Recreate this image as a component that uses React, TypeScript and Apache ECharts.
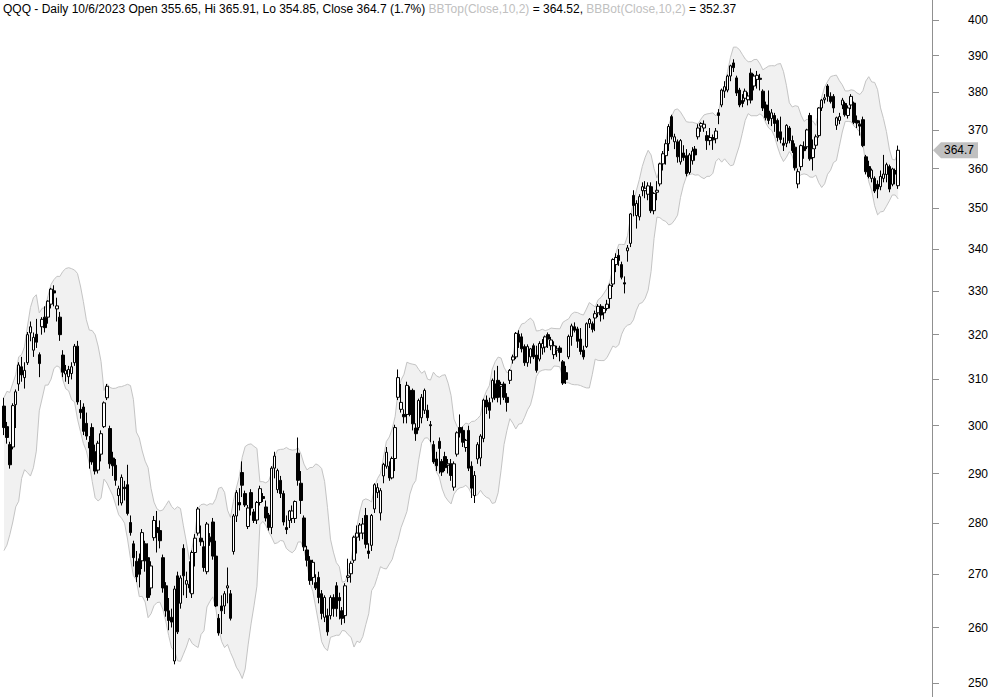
import React, { useEffect, useRef } from "react";
import * as echarts from "echarts";

// Closes of the 9 sessions before the first visible bar (needed for the 10-day Bollinger band)
const priorCloses = [285.3, 282.6, 282.0, 282.8, 287.7, 285.2, 294.2, 299.6, 304.0];

// date, open, high, low, close
const bars: [string, number, number, number, number][] = [
  ["7/22/22", 304.2, 306.0, 298.0, 299.6], ["7/25/22", 299.8, 300.8, 296.2, 297.5], ["7/26/22", 296.0, 296.6, 291.0, 291.8],
  ["7/27/22", 295.5, 304.8, 295.0, 304.3], ["7/28/22", 304.5, 307.8, 299.5, 307.3], ["7/29/22", 309.0, 313.8, 307.5, 313.2],
  ["8/1/22", 312.8, 315.0, 309.5, 311.0], ["8/2/22", 310.4, 313.8, 308.0, 312.0], ["8/3/22", 313.7, 320.6, 313.2, 320.0],
  ["8/4/22", 320.4, 323.0, 318.5, 321.8], ["8/5/22", 316.5, 320.5, 315.0, 319.4], ["8/8/22", 320.1, 323.6, 317.0, 318.3],
  ["8/9/22", 315.5, 316.0, 310.5, 313.5], ["8/10/22", 321.8, 324.0, 320.0, 323.5], ["8/11/22", 324.0, 326.5, 320.5, 321.6],
  ["8/12/22", 324.0, 327.9, 322.5, 327.7], ["8/15/22", 327.0, 330.8, 326.0, 330.5], ["8/16/22", 330.1, 331.4, 326.5, 329.6],
  ["8/17/22", 325.9, 328.5, 323.0, 326.6], ["8/18/22", 324.0, 325.2, 318.6, 320.0], ["8/19/22", 315.4, 316.5, 310.5, 311.6],
  ["8/22/22", 311.2, 313.2, 309.5, 312.0], ["8/23/22", 310.6, 313.0, 309.0, 312.2], ["8/24/22", 311.3, 313.8, 310.0, 312.8],
  ["8/25/22", 313.7, 317.9, 313.0, 317.4], ["8/26/22", 317.4, 318.6, 304.5, 305.1], ["8/29/22", 303.5, 305.5, 301.5, 302.8],
  ["8/30/22", 304.0, 304.8, 298.0, 298.8], ["8/31/22", 300.5, 302.8, 297.0, 297.8], ["9/1/22", 296.5, 297.8, 291.0, 295.3],
  ["9/2/22", 299.6, 300.5, 291.8, 292.4], ["9/6/22", 294.5, 296.0, 289.8, 290.5], ["9/7/22", 290.7, 296.8, 290.0, 296.3],
  ["9/8/22", 294.0, 299.0, 292.5, 298.3], ["9/9/22", 299.8, 305.2, 299.5, 304.9], ["9/12/22", 306.0, 309.0, 305.5, 308.5],
  ["9/13/22", 299.4, 300.0, 291.0, 292.0], ["9/14/22", 293.2, 294.5, 289.5, 291.6], ["9/15/22", 291.7, 293.0, 287.5, 288.6],
  ["9/16/22", 285.5, 287.5, 283.5, 286.9], ["9/19/22", 284.0, 289.8, 283.5, 289.2], ["9/20/22", 287.2, 288.5, 284.5, 286.9],
  ["9/21/22", 287.7, 291.8, 281.5, 281.9], ["9/22/22", 280.1, 281.5, 277.5, 278.1], ["9/23/22", 275.9, 276.5, 271.5, 273.2],
  ["9/26/22", 272.5, 274.5, 268.5, 269.5], ["9/27/22", 273.0, 274.0, 267.5, 270.0], ["9/28/22", 272.6, 278.8, 271.0, 278.1],
  ["9/29/22", 275.9, 276.5, 270.5, 272.6], ["9/30/22", 273.2, 276.0, 265.0, 265.6], ["10/3/22", 267.4, 272.5, 266.0, 271.6],
  ["10/4/22", 277.1, 281.4, 276.5, 280.5], ["10/5/22", 279.1, 282.4, 274.2, 278.1], ["10/6/22", 278.5, 280.5, 275.0, 276.5],
  ["10/7/22", 273.2, 273.8, 266.5, 267.4], ["10/10/22", 267.8, 268.5, 262.0, 263.1], ["10/11/22", 263.1, 265.5, 259.5, 261.3],
  ["10/12/22", 261.9, 263.5, 260.0, 261.0], ["10/13/22", 253.9, 267.8, 253.3, 267.2], ["10/14/22", 269.7, 270.5, 258.8, 259.2],
  ["10/17/22", 264.5, 269.8, 263.5, 269.3], ["10/18/22", 275.0, 275.8, 266.0, 269.7], ["10/19/22", 268.1, 270.5, 265.5, 268.8],
  ["10/20/22", 268.1, 272.5, 266.5, 267.4], ["10/21/22", 266.3, 274.6, 265.5, 274.2], ["10/24/22", 274.2, 277.8, 271.5, 277.0],
  ["10/25/22", 278.0, 283.2, 277.5, 282.8], ["10/26/22", 277.0, 279.5, 275.5, 276.3], ["10/27/22", 275.3, 276.5, 270.5, 271.3],
  ["10/28/22", 270.5, 280.2, 270.0, 279.8], ["10/31/22", 277.2, 278.0, 275.5, 276.3], ["11/1/22", 280.2, 281.0, 272.8, 273.5],
  ["11/2/22", 273.5, 276.5, 263.8, 264.0], ["11/3/22", 261.7, 262.5, 258.5, 259.0], ["11/4/22", 264.0, 266.0, 258.8, 263.1],
  ["11/7/22", 264.0, 266.8, 262.5, 266.3], ["11/8/22", 267.4, 271.3, 264.5, 267.8], ["11/9/22", 266.3, 267.0, 261.3, 261.7],
  ["11/10/22", 274.4, 281.8, 273.8, 281.4], ["11/11/22", 281.4, 286.6, 280.2, 286.1], ["11/14/22", 284.1, 287.0, 282.5, 283.6],
  ["11/15/22", 290.2, 292.5, 285.2, 287.6], ["11/16/22", 285.9, 286.5, 283.2, 283.6], ["11/17/22", 279.3, 283.6, 278.8, 283.0],
  ["11/18/22", 286.1, 286.8, 281.5, 283.0], ["11/21/22", 282.2, 282.8, 280.0, 280.5], ["11/22/22", 280.6, 284.4, 279.8, 284.1],
  ["11/23/22", 284.1, 287.5, 283.5, 286.9], ["11/25/22", 285.3, 286.0, 284.2, 284.9], ["11/28/22", 283.2, 284.5, 280.3, 281.0],
  ["11/29/22", 281.6, 282.0, 278.5, 279.1], ["11/30/22", 279.1, 291.5, 277.8, 291.1], ["12/1/22", 291.1, 294.5, 289.0, 293.6],
  ["12/2/22", 286.7, 291.0, 286.0, 290.6], ["12/5/22", 288.6, 289.5, 285.0, 285.9], ["12/6/22", 285.9, 286.5, 279.5, 280.2],
  ["12/7/22", 279.1, 281.5, 277.8, 278.7], ["12/8/22", 280.5, 282.6, 279.0, 282.4], ["12/9/22", 280.9, 283.5, 280.0, 282.4],
  ["12/12/22", 280.9, 284.5, 280.0, 284.3], ["12/13/22", 294.2, 297.5, 287.5, 288.6], ["12/14/22", 288.0, 290.5, 281.8, 284.5],
  ["12/15/22", 281.0, 281.5, 274.5, 275.3], ["12/16/22", 274.7, 275.5, 271.5, 272.7], ["12/19/22", 272.7, 273.5, 268.0, 268.8],
  ["12/20/22", 269.4, 272.8, 268.0, 272.3], ["12/21/22", 268.4, 270.0, 267.0, 267.4], ["12/22/22", 269.4, 270.5, 264.5, 265.6],
  ["12/23/22", 266.3, 267.0, 261.5, 262.6], ["12/27/22", 261.9, 266.0, 261.0, 265.6], ["12/28/22", 262.2, 263.5, 258.5, 259.2],
  ["12/29/22", 262.2, 266.0, 261.5, 265.6], ["12/30/22", 265.6, 266.2, 262.0, 263.5], ["1/3/23", 267.8, 268.5, 262.0, 263.5],
  ["1/4/23", 265.6, 266.5, 261.5, 265.0], ["1/5/23", 263.1, 263.8, 260.5, 261.7], ["1/6/23", 262.2, 268.3, 260.8, 267.8],
  ["1/9/23", 269.4, 273.0, 268.5, 269.7], ["1/10/23", 270.1, 272.5, 268.4, 272.1], ["1/11/23", 272.7, 277.5, 272.2, 277.2],
  ["1/12/23", 277.2, 279.5, 274.0, 278.0], ["1/13/23", 278.0, 280.0, 276.5, 279.6], ["1/17/23", 278.0, 281.0, 276.8, 279.8],
  ["1/18/23", 281.5, 283.0, 275.0, 275.8], ["1/19/23", 274.5, 276.0, 273.0, 274.0], ["1/20/23", 275.6, 281.8, 274.5, 281.5],
  ["1/23/23", 282.8, 288.0, 282.0, 287.7], ["1/24/23", 286.1, 288.0, 285.0, 287.1], ["1/25/23", 282.0, 287.0, 280.5, 286.5],
  ["1/26/23", 289.5, 292.2, 288.0, 291.9], ["1/27/23", 291.5, 295.5, 291.0, 294.4], ["1/30/23", 291.5, 292.5, 288.5, 289.1],
  ["1/31/23", 289.1, 293.5, 288.8, 293.1], ["2/1/23", 293.1, 300.2, 290.5, 299.6], ["2/2/23", 306.1, 312.2, 305.5, 310.4],
  ["2/3/23", 303.5, 309.0, 302.8, 305.0], ["2/6/23", 302.4, 303.5, 300.5, 301.9], ["2/7/23", 302.4, 309.5, 300.5, 308.7],
  ["2/8/23", 307.6, 308.5, 302.0, 302.4], ["2/9/23", 307.6, 308.0, 299.0, 300.4], ["2/10/23", 299.5, 300.5, 296.8, 298.3],
  ["2/13/23", 299.6, 305.8, 299.0, 305.4], ["2/14/23", 301.7, 306.8, 300.5, 306.1], ["2/15/23", 303.3, 308.0, 302.5, 307.6],
  ["2/16/23", 303.3, 304.5, 301.0, 301.7], ["2/17/23", 300.2, 301.0, 296.5, 300.0], ["2/21/23", 296.0, 296.8, 292.0, 292.4],
  ["2/22/23", 293.0, 294.5, 290.5, 291.6], ["2/23/23", 296.7, 297.5, 290.0, 295.2], ["2/24/23", 292.5, 293.0, 289.5, 290.3],
  ["2/27/23", 293.5, 294.5, 290.5, 291.2], ["2/28/23", 291.7, 293.0, 290.0, 292.0], ["3/1/23", 292.0, 293.0, 288.5, 289.6],
  ["3/2/23", 287.2, 292.5, 286.5, 292.0], ["3/3/23", 294.0, 298.8, 293.5, 298.5], ["3/6/23", 299.6, 302.4, 297.5, 298.5],
  ["3/7/23", 299.0, 299.8, 295.5, 296.5], ["3/8/23", 295.4, 297.2, 294.5, 296.9], ["3/9/23", 299.0, 300.0, 290.5, 291.1],
  ["3/10/23", 291.5, 292.5, 285.0, 287.0], ["3/13/23", 285.5, 290.5, 284.0, 289.6], ["3/14/23", 293.0, 296.5, 292.0, 296.0],
  ["3/15/23", 293.2, 298.2, 291.5, 297.8], ["3/16/23", 297.3, 305.8, 296.5, 305.5], ["3/17/23", 305.5, 306.5, 302.5, 304.0],
  ["3/20/23", 305.0, 306.0, 301.5, 303.3], ["3/21/23", 305.9, 310.2, 305.0, 309.8], ["3/22/23", 309.0, 312.0, 305.5, 306.0],
  ["3/23/23", 309.8, 313.0, 305.0, 306.1], ["3/24/23", 308.5, 309.5, 304.5, 308.9], ["3/27/23", 309.0, 309.5, 305.5, 306.1],
  ["3/28/23", 306.1, 307.0, 303.0, 305.0], ["3/29/23", 309.8, 312.3, 309.0, 312.0], ["3/30/23", 314.3, 315.5, 313.5, 315.0],
  ["3/31/23", 315.0, 320.6, 314.5, 320.3], ["4/3/23", 320.1, 321.0, 317.0, 318.3], ["4/4/23", 319.5, 320.3, 316.0, 316.8],
  ["4/5/23", 317.3, 317.8, 313.0, 313.7], ["4/6/23", 313.7, 317.8, 312.8, 317.3], ["4/10/23", 315.0, 317.0, 313.5, 316.8],
  ["4/11/23", 317.5, 318.0, 314.5, 315.0], ["4/12/23", 315.4, 317.5, 311.5, 312.0], ["4/13/23", 314.5, 318.5, 314.0, 318.0],
  ["4/14/23", 317.0, 319.0, 315.5, 318.0], ["4/17/23", 317.2, 319.8, 316.0, 319.5], ["4/18/23", 320.0, 320.5, 317.0, 319.0],
  ["4/19/23", 317.5, 319.5, 316.5, 318.8], ["4/20/23", 315.5, 318.5, 314.5, 317.5], ["4/21/23", 316.5, 317.5, 315.0, 316.8],
  ["4/24/23", 317.0, 317.5, 314.0, 316.0], ["4/25/23", 313.9, 314.3, 308.8, 309.2], ["4/26/23", 311.5, 313.0, 309.0, 310.0],
  ["4/27/23", 315.0, 320.0, 314.5, 319.6], ["4/28/23", 319.6, 322.5, 317.5, 322.0], ["5/1/23", 321.8, 322.8, 320.5, 321.0],
  ["5/2/23", 321.3, 321.8, 317.0, 318.5], ["5/3/23", 319.0, 321.5, 315.5, 316.2], ["5/4/23", 316.5, 317.5, 314.4, 315.0],
  ["5/5/23", 317.3, 322.8, 317.0, 322.5], ["5/8/23", 322.5, 323.8, 321.5, 323.5], ["5/9/23", 322.5, 323.0, 320.5, 321.2],
  ["5/10/23", 323.8, 325.5, 320.8, 324.8], ["5/11/23", 325.0, 327.0, 324.0, 326.5], ["5/12/23", 326.5, 327.0, 323.0, 324.5],
  ["5/15/23", 325.0, 326.5, 323.5, 326.0], ["5/16/23", 326.0, 328.0, 325.5, 327.0], ["5/17/23", 328.3, 331.8, 326.0, 331.4],
  ["5/18/23", 331.7, 337.8, 331.0, 337.5], ["5/19/23", 336.3, 339.0, 334.5, 338.0], ["5/22/23", 338.5, 340.0, 336.0, 337.3],
  ["5/23/23", 336.3, 337.0, 332.8, 333.3], ["5/24/23", 332.0, 333.5, 329.5, 331.7], ["5/25/23", 339.6, 341.0, 337.0, 340.3],
  ["5/26/23", 341.4, 348.8, 340.5, 348.6], ["5/30/23", 353.2, 354.5, 348.0, 350.7], ["5/31/23", 348.2, 352.0, 345.0, 351.2],
  ["6/1/23", 347.9, 353.5, 347.0, 352.9], ["6/2/23", 354.4, 356.5, 353.0, 355.4], ["6/5/23", 354.4, 356.8, 352.5, 355.0],
  ["6/6/23", 353.5, 356.5, 352.0, 355.6], ["6/7/23", 355.4, 356.5, 348.8, 349.4], ["6/8/23", 349.4, 354.0, 348.5, 353.7],
  ["6/9/23", 354.0, 356.8, 352.0, 354.5], ["6/12/23", 356.1, 361.5, 355.5, 361.2], ["6/13/23", 361.2, 364.5, 359.5, 363.8],
  ["6/14/23", 363.3, 367.5, 361.0, 366.4], ["6/15/23", 366.4, 371.5, 364.5, 370.9], ["6/16/23", 373.5, 374.0, 367.5, 368.2],
  ["6/20/23", 366.9, 369.0, 365.0, 368.2], ["6/21/23", 366.9, 367.5, 361.5, 363.0], ["6/22/23", 361.7, 367.6, 361.0, 367.2],
  ["6/23/23", 364.0, 366.0, 362.0, 362.8], ["6/26/23", 363.3, 365.0, 358.0, 358.7], ["6/27/23", 359.0, 364.0, 358.5, 363.5],
  ["6/28/23", 362.0, 365.5, 361.0, 364.5], ["6/29/23", 365.0, 365.8, 362.0, 363.5], ["6/30/23", 368.2, 371.5, 367.5, 370.5],
  ["7/3/23", 371.0, 372.0, 369.5, 371.7], ["7/5/23", 370.5, 372.5, 369.5, 371.5], ["7/6/23", 368.5, 369.7, 364.8, 367.2],
  ["7/7/23", 367.2, 370.5, 366.0, 368.0], ["7/10/23", 368.0, 368.8, 364.8, 367.4], ["7/11/23", 367.7, 370.5, 366.5, 369.7],
  ["7/12/23", 374.5, 375.5, 371.5, 373.8], ["7/13/23", 376.6, 381.0, 376.0, 380.6], ["7/14/23", 380.3, 383.0, 378.5, 381.5],
  ["7/17/23", 380.6, 384.8, 380.0, 384.4], ["7/18/23", 384.4, 387.5, 383.0, 387.2], ["7/19/23", 388.0, 389.0, 385.5, 386.7],
  ["7/20/23", 383.9, 384.5, 379.0, 379.8], ["7/21/23", 380.6, 381.2, 376.0, 376.6], ["7/24/23", 377.8, 379.5, 376.0, 377.0],
  ["7/25/23", 378.4, 381.0, 377.5, 380.3], ["7/26/23", 378.0, 380.0, 376.5, 379.0], ["7/27/23", 385.2, 386.5, 377.0, 377.9],
  ["7/28/23", 381.7, 385.0, 380.5, 384.4], ["7/31/23", 383.5, 385.8, 381.0, 384.6], ["8/1/23", 383.8, 385.0, 380.5, 383.5],
  ["8/2/23", 380.3, 380.8, 375.0, 375.8], ["8/3/23", 376.6, 377.5, 372.5, 373.2], ["8/4/23", 375.0, 380.5, 371.5, 372.5],
  ["8/7/23", 373.0, 375.5, 371.0, 374.5], ["8/8/23", 373.8, 374.5, 369.5, 371.7], ["8/9/23", 372.5, 373.0, 367.0, 368.0],
  ["8/10/23", 369.5, 373.5, 366.5, 367.5], ["8/11/23", 366.5, 368.0, 364.5, 366.0], ["8/14/23", 366.5, 371.5, 365.5, 371.2],
  ["8/15/23", 370.5, 371.0, 366.5, 367.2], ["8/16/23", 367.2, 368.5, 364.0, 364.6], ["8/17/23", 365.5, 366.5, 359.5, 360.2],
  ["8/18/23", 356.1, 360.0, 355.0, 359.2], ["8/21/23", 360.5, 366.2, 359.5, 365.9], ["8/22/23", 365.6, 367.0, 362.5, 364.6],
  ["8/23/23", 365.6, 370.3, 365.0, 370.0], ["8/24/23", 373.8, 374.5, 362.0, 362.5], ["8/25/23", 362.8, 367.5, 359.5, 365.1],
  ["8/28/23", 366.0, 368.8, 365.0, 368.2], ["8/29/23", 368.5, 376.0, 368.0, 375.8], ["8/30/23", 375.8, 378.2, 375.0, 377.9],
  ["8/31/23", 378.0, 379.5, 377.0, 378.5], ["9/1/23", 381.7, 382.2, 377.5, 378.9], ["9/5/23", 378.9, 380.0, 377.0, 377.5],
  ["9/6/23", 378.9, 379.5, 374.5, 375.8], ["9/7/23", 371.2, 373.5, 370.0, 373.2], ["9/8/23", 372.5, 374.5, 371.5, 373.5],
  ["9/11/23", 376.6, 378.5, 375.5, 377.9], ["9/12/23", 377.0, 377.5, 373.5, 374.0], ["9/13/23", 373.8, 376.5, 373.0, 375.8],
  ["9/14/23", 376.6, 379.5, 375.5, 378.9], ["9/15/23", 377.1, 377.5, 371.5, 372.0], ["9/18/23", 372.5, 373.8, 370.5, 371.8],
  ["9/19/23", 371.5, 372.5, 368.5, 371.0], ["9/20/23", 372.7, 373.5, 365.5, 365.9], ["9/21/23", 363.0, 363.5, 358.5, 359.2],
  ["9/22/23", 360.5, 362.0, 357.5, 358.0], ["9/25/23", 357.5, 360.0, 356.5, 359.6], ["9/26/23", 357.5, 358.0, 353.8, 354.3],
  ["9/27/23", 356.0, 357.0, 352.5, 354.8], ["9/28/23", 355.4, 359.5, 354.5, 358.0], ["9/29/23", 357.5, 363.5, 356.5, 358.6],
  ["10/2/23", 358.5, 361.5, 356.5, 361.0], ["10/3/23", 360.5, 361.0, 354.0, 354.8], ["10/4/23", 356.0, 360.2, 355.5, 359.9],
  ["10/5/23", 359.5, 360.0, 356.0, 358.6], ["10/6/23", 355.65, 365.91, 354.85, 364.7],
];

const yTicks = [250, 260, 270, 280, 290, 300, 310, 320, 330, 340, 350, 360, 370, 380, 390, 400];
const emptySlotsRight = 11;
const bbPeriod = 10;
const bbWidth = 2;

const headerMain = "QQQ - Daily 10/6/2023 Open 355.65, Hi 365.91, Lo 354.85, Close 364.7 (1.7%) ";
const headerTop = "BBTop(Close,10,2)";
const headerTopVal = " = 364.52, ";
const headerBot = "BBBot(Close,10,2)";
const headerBotVal = " = 352.37";

const FONT = "'Liberation Sans', Arial, sans-serif";

export default function App() {
  const ref = useRef<HTMLDivElement>(null);

  useEffect(() => {
    document.body.style.margin = "0";
    const el = ref.current;
    if (!el) return;
    const chart = echarts.init(el, null, { renderer: "svg" });

    const dates = bars.map((b) => b[0]);
    const closes = bars.map((b) => b[4]);
    const all = priorCloses.concat(closes);
    const off = priorCloses.length;
    const lower: number[] = [];
    const span: number[] = [];
    for (let i = 0; i < bars.length; i++) {
      const w = all.slice(i + off - (bbPeriod - 1), i + off + 1);
      const mean = w.reduce((a, b) => a + b, 0) / w.length;
      const sd = Math.sqrt(w.reduce((a, b) => a + (b - mean) * (b - mean), 0) / w.length);
      lower.push(+(mean - bbWidth * sd).toFixed(3));
      span.push(+(2 * bbWidth * sd).toFixed(3));
    }
    const cats = dates.concat(Array.from({ length: emptySlotsRight }, (_, k) => "pad" + k));

    const gridRight = 62;
    const richBase = { fontSize: 12, fontFamily: FONT, fontWeight: "normal" as const };
    chart.setOption({
      animation: false,
      backgroundColor: "#ffffff",
      title: {
        text: `{b|${headerMain}}{g|${headerTop}}{b|${headerTopVal}}{g|${headerBot}}{b|${headerBotVal}}`,
        left: 3,
        top: 3,
        padding: 0,
        textStyle: {
          fontWeight: "normal",
          fontSize: 12,
          fontFamily: FONT,
          rich: {
            b: { ...richBase, color: "#000000" },
            g: { ...richBase, color: "#c0c0c0" },
          },
        },
      },
      grid: { left: 2.5, right: gridRight, top: 0, bottom: 0 },
      xAxis: {
        type: "category",
        data: cats,
        boundaryGap: true,
        axisLine: { show: false },
        axisTick: { show: false },
        axisLabel: { show: false },
        splitLine: { show: false },
      },
      yAxis: {
        type: "log",
        logBase: 10,
        min: 247.5,
        max: 405.7,
        position: "right",
        axisLine: { show: true, lineStyle: { color: "#909090", width: 1 } },
        axisTick: { show: true, length: 7, lineStyle: { color: "#909090" }, customValues: yTicks },
        axisLabel: {
          customValues: yTicks,
          color: "#000000",
          fontSize: 12,
          fontFamily: FONT,
          margin: 36,
        },
        splitLine: { show: false },
        minorTick: { show: false },
      },
      series: [
        {
          type: "line",
          name: "BBBot",
          data: lower,
          stack: "bb",
          symbol: "none",
          silent: true,
          z: 1,
          lineStyle: { color: "#c4c4c4", width: 1 },
        },
        {
          type: "line",
          name: "BBTop",
          data: span,
          stack: "bb",
          symbol: "none",
          silent: true,
          z: 1,
          lineStyle: { color: "#c4c4c4", width: 1 },
          areaStyle: { color: "#f1f1f1", opacity: 1 },
        },
        {
          type: "candlestick",
          name: "QQQ",
          z: 3,
          barWidth: 3,
          data: bars.map((b) => [b[1], b[4], b[3], b[2]]),
          itemStyle: {
            color: "#ffffff",
            color0: "#000000",
            borderColor: "#000000",
            borderColor0: "#000000",
            borderWidth: 1,
          },
        },
      ],
    });

    const last = closes[closes.length - 1];
    const y = chart.convertToPixel({ yAxisIndex: 0 }, last) as number;
    const ax = el.clientWidth - gridRight + 1;
    chart.setOption({
      graphic: [
        {
          type: "polygon",
          shape: {
            points: [
              [ax, y],
              [ax + 8, y - 8],
              [ax + 45, y - 8],
              [ax + 45, y + 8],
              [ax + 8, y + 8],
            ],
          },
          style: { fill: "#c0c0c0" },
          z: 10,
        },
        {
          type: "text",
          x: ax + 11,
          y: y,
          style: {
            text: String(last),
            fill: "#000000",
            font: `12px ${FONT}`,
            verticalAlign: "middle",
          },
          z: 11,
        },
      ],
    });

    return () => chart.dispose();
  }, []);

  return <div ref={ref} style={{ width: 994, height: 697 }} />;
}
